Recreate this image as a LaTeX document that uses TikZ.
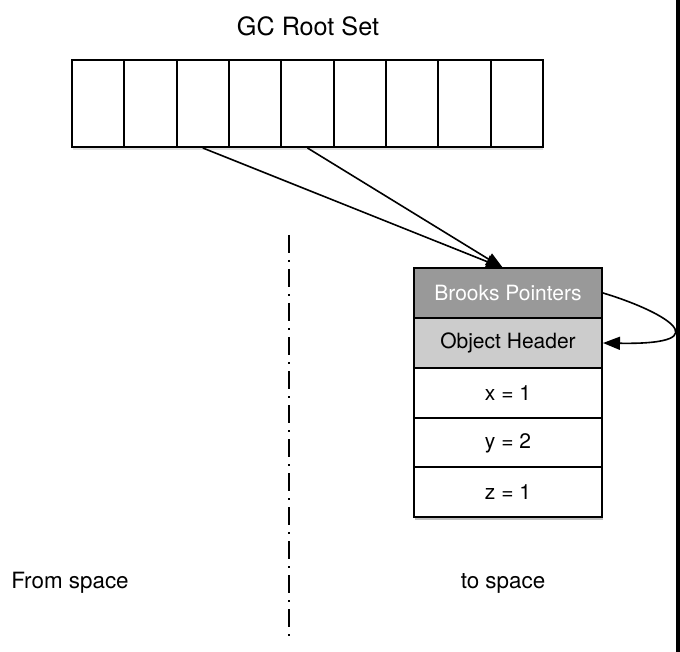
\documentclass[tikz,border=0pt]{standalone}
\usepackage{fontspec}
\setmainfont{TeX Gyre Heros}
\usetikzlibrary{arrows.meta,shadows}
\begin{document}
\begin{tikzpicture}[x=1pt, y=-1pt]
      \tikzstyle{cell}=[draw, line width=2pt, minimum width=52.33pt, minimum height=87pt,
                        inner sep=0pt, fill=white, drop shadow={opacity=0.25, shadow xshift=0.5pt, shadow yshift=-3pt}]
      \tikzstyle{field}=[draw, line width=2pt, minimum width=188pt, minimum height=50pt,
                         inner sep=0pt, font=\fontsize{21}{25}\selectfont]
      \tikzstyle{arrow}=[line width=1.6pt, -{Triangle[length=17pt, width=13pt]}]
      \tikzstyle{dark}=[fill=black!40, text=white]
      \tikzstyle{light}=[fill=black!20]
      \tikzstyle{plain}=[fill=white]
      \tikzstyle{caption}=[font=\fontsize{22.4}{26}\selectfont]
      \useasboundingbox (0,0) rectangle (680,652);
      \fill[white] (0,0) rectangle (680,652);
      \fill[black] (676,0) rectangle (680,652);

      % root set
      \node[font=\fontsize{25.2}{30}\selectfont] (title) at (308,26) {GC Root Set};
      \foreach \i in {0,...,8} {%
        \node[cell] (r\i) at ({98.17+52.33*\i}, 103.5) {};
      }

      % object in to space
      \fill[black, opacity=0.25] (415,271) rectangle (603,520);
      \node[field, dark] (bp) at (508,293) {Brooks Pointers};
      \node[field, light] (oh) at (508,343) {Object Header};
      \node[field, plain] (fx) at (508,393) {x = 1};
      \node[field, plain] (fy) at (508,443) {y = 2};
      \node[field, plain] (fz) at (508,492) {z = 1};
      \coordinate (hit) at (503,268);

      \foreach \src in {r2, r4} {%
        \draw[arrow] (\src.south) to (hit);
      }
      \draw[arrow] (bp.east) .. controls (660,310) and (725,345) .. (oh.east);

      % spaces
      \coordinate (top) at (289,235);
      \coordinate (bot) at (289,642);
      \draw[line width=2pt, dash pattern=on 18pt off 7pt on 2pt off 7pt] (top) -- (bot);
      \node[caption] (from) at (70,583) {From space};
      \node[caption] (to) at (503,583) {to space};
    \end{tikzpicture}
\end{document}
